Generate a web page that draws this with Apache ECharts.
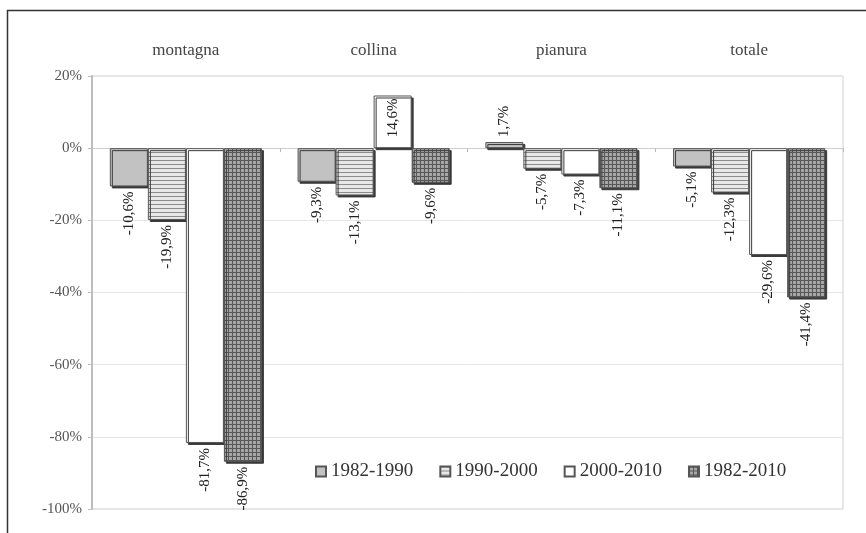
<!DOCTYPE html>
<html>
<head>
<meta charset="utf-8">
<script src="https://cdn.jsdelivr.net/npm/echarts@6/dist/echarts.min.js"></script>
<style>
html,body{margin:0;padding:0;background:#fff;}
#chart{width:866px;height:533px;}
</style>
</head>
<body>
<div id="chart"></div>
<script>
const categories = ['montagna', 'collina', 'pianura', 'totale'];
const seriesNames = ['1982-1990', '1990-2000', '2000-2010', '1982-2010'];
const v1982_1990 = [-10.6, -9.3, 1.7, -5.1];
const v1990_2000 = [-19.9, -13.1, -5.7, -12.3];
const v2000_2010 = [-81.7, 14.6, -7.3, -29.6];
const v1982_2010 = [-86.9, -9.6, -11.1, -41.4];
const yTicks = { min: -100, max: 20, interval: 20 };

const FONT = '"Liberation Serif", "Times New Roman", serif';

function pattern(size, draw) {
  const c = document.createElement('canvas');
  c.width = size; c.height = size;
  const ctx = c.getContext('2d');
  draw(ctx, size);
  return { image: c, repeat: 'repeat' };
}
const fills = [
  '#c2c2c2',
  pattern(4, (ctx, s) => { ctx.fillStyle = '#e8e8e8'; ctx.fillRect(0, 0, s, s); ctx.fillStyle = '#8c8c8c'; ctx.fillRect(0, 0, s, 1); }),
  '#ffffff',
  pattern(4, (ctx, s) => { ctx.fillStyle = '#a6a6a6'; ctx.fillRect(0, 0, s, s); ctx.fillStyle = '#575757'; ctx.fillRect(0, 0, s, 1); ctx.fillRect(0, 0, 1, s); })
];
const values = [v1982_1990, v1990_2000, v2000_2010, v1982_2010];

function fmt(v) { return String(v.toFixed(1)).replace('.', ',') + '%'; }

function labelFor(v, si, ci) {
  const base = { show: true, rotate: 90, fontFamily: FONT, fontSize: 15, color: '#222', verticalAlign: 'middle', formatter: p => fmt(p.value) };
  if (v < 0) return Object.assign(base, { position: 'bottom', align: 'right', distance: 5 });
  if (v > 10) return Object.assign(base, { position: 'insideTop', align: 'right', distance: 3 });
  return Object.assign(base, { position: 'top', align: 'left', distance: 5 });
}

const series = seriesNames.map((name, si) => ({
  name: name,
  type: 'bar',
  xAxisIndex: 0,
  barGap: '0%',
  barCategoryGap: '19%',
  itemStyle: { color: fills[si], borderColor: '#555', borderWidth: 1, shadowColor: '#3a3a3a', shadowOffsetX: 2, shadowOffsetY: 2, shadowBlur: 0 },
  data: values[si].map((v, ci) => ({ value: v, label: labelFor(v, si, ci) }))
}));

const chart = echarts.init(document.getElementById('chart'), null, { renderer: 'canvas' });
chart.setOption({
  animation: false,
  backgroundColor: '#fff',
  grid: { left: 92, right: 23, top: 76, bottom: 24, show: true, borderColor: '#cfcfcf', borderWidth: 1 },
  legend: {
    left: 310, top: 457,
    itemWidth: 10, itemHeight: 10, itemGap: 26,
    icon: 'rect',
    textStyle: { fontFamily: FONT, fontSize: 19, color: '#333' },
    data: seriesNames
  },
  xAxis: [
    {
      type: 'category', data: categories, position: 'bottom',
      axisLine: { onZero: true, lineStyle: { color: '#cfcfcf', width: 1 } },
      axisTick: { show: true, length: 4, lineStyle: { color: '#bbb' } },
      axisLabel: { show: false }
    },
    {
      type: 'category', data: categories, position: 'top',
      axisLine: { show: false, onZero: false }, axisTick: { show: false },
      axisLabel: { show: true, fontFamily: FONT, fontSize: 17, color: '#444', margin: 17 }
    }
  ],
  yAxis: {
    type: 'value', min: yTicks.min, max: yTicks.max, interval: yTicks.interval,
    axisLine: { show: true, lineStyle: { color: '#bdbdbd', width: 2 } },
    axisTick: { show: true, length: 4, lineStyle: { color: '#bdbdbd' } },
    splitLine: { lineStyle: { color: '#e6e6e6' } },
    axisLabel: { fontFamily: FONT, fontSize: 15, color: '#555', margin: 10, formatter: v => v + '%' }
  },
  graphic: [
    { type: 'polyline', silent: true, shape: { points: [[7.5, 533], [7.5, 10.5], [866, 10.5]] }, style: { stroke: '#333', lineWidth: 1.5, fill: null } }
  ],
  series: series
});
</script>
</body>
</html>
